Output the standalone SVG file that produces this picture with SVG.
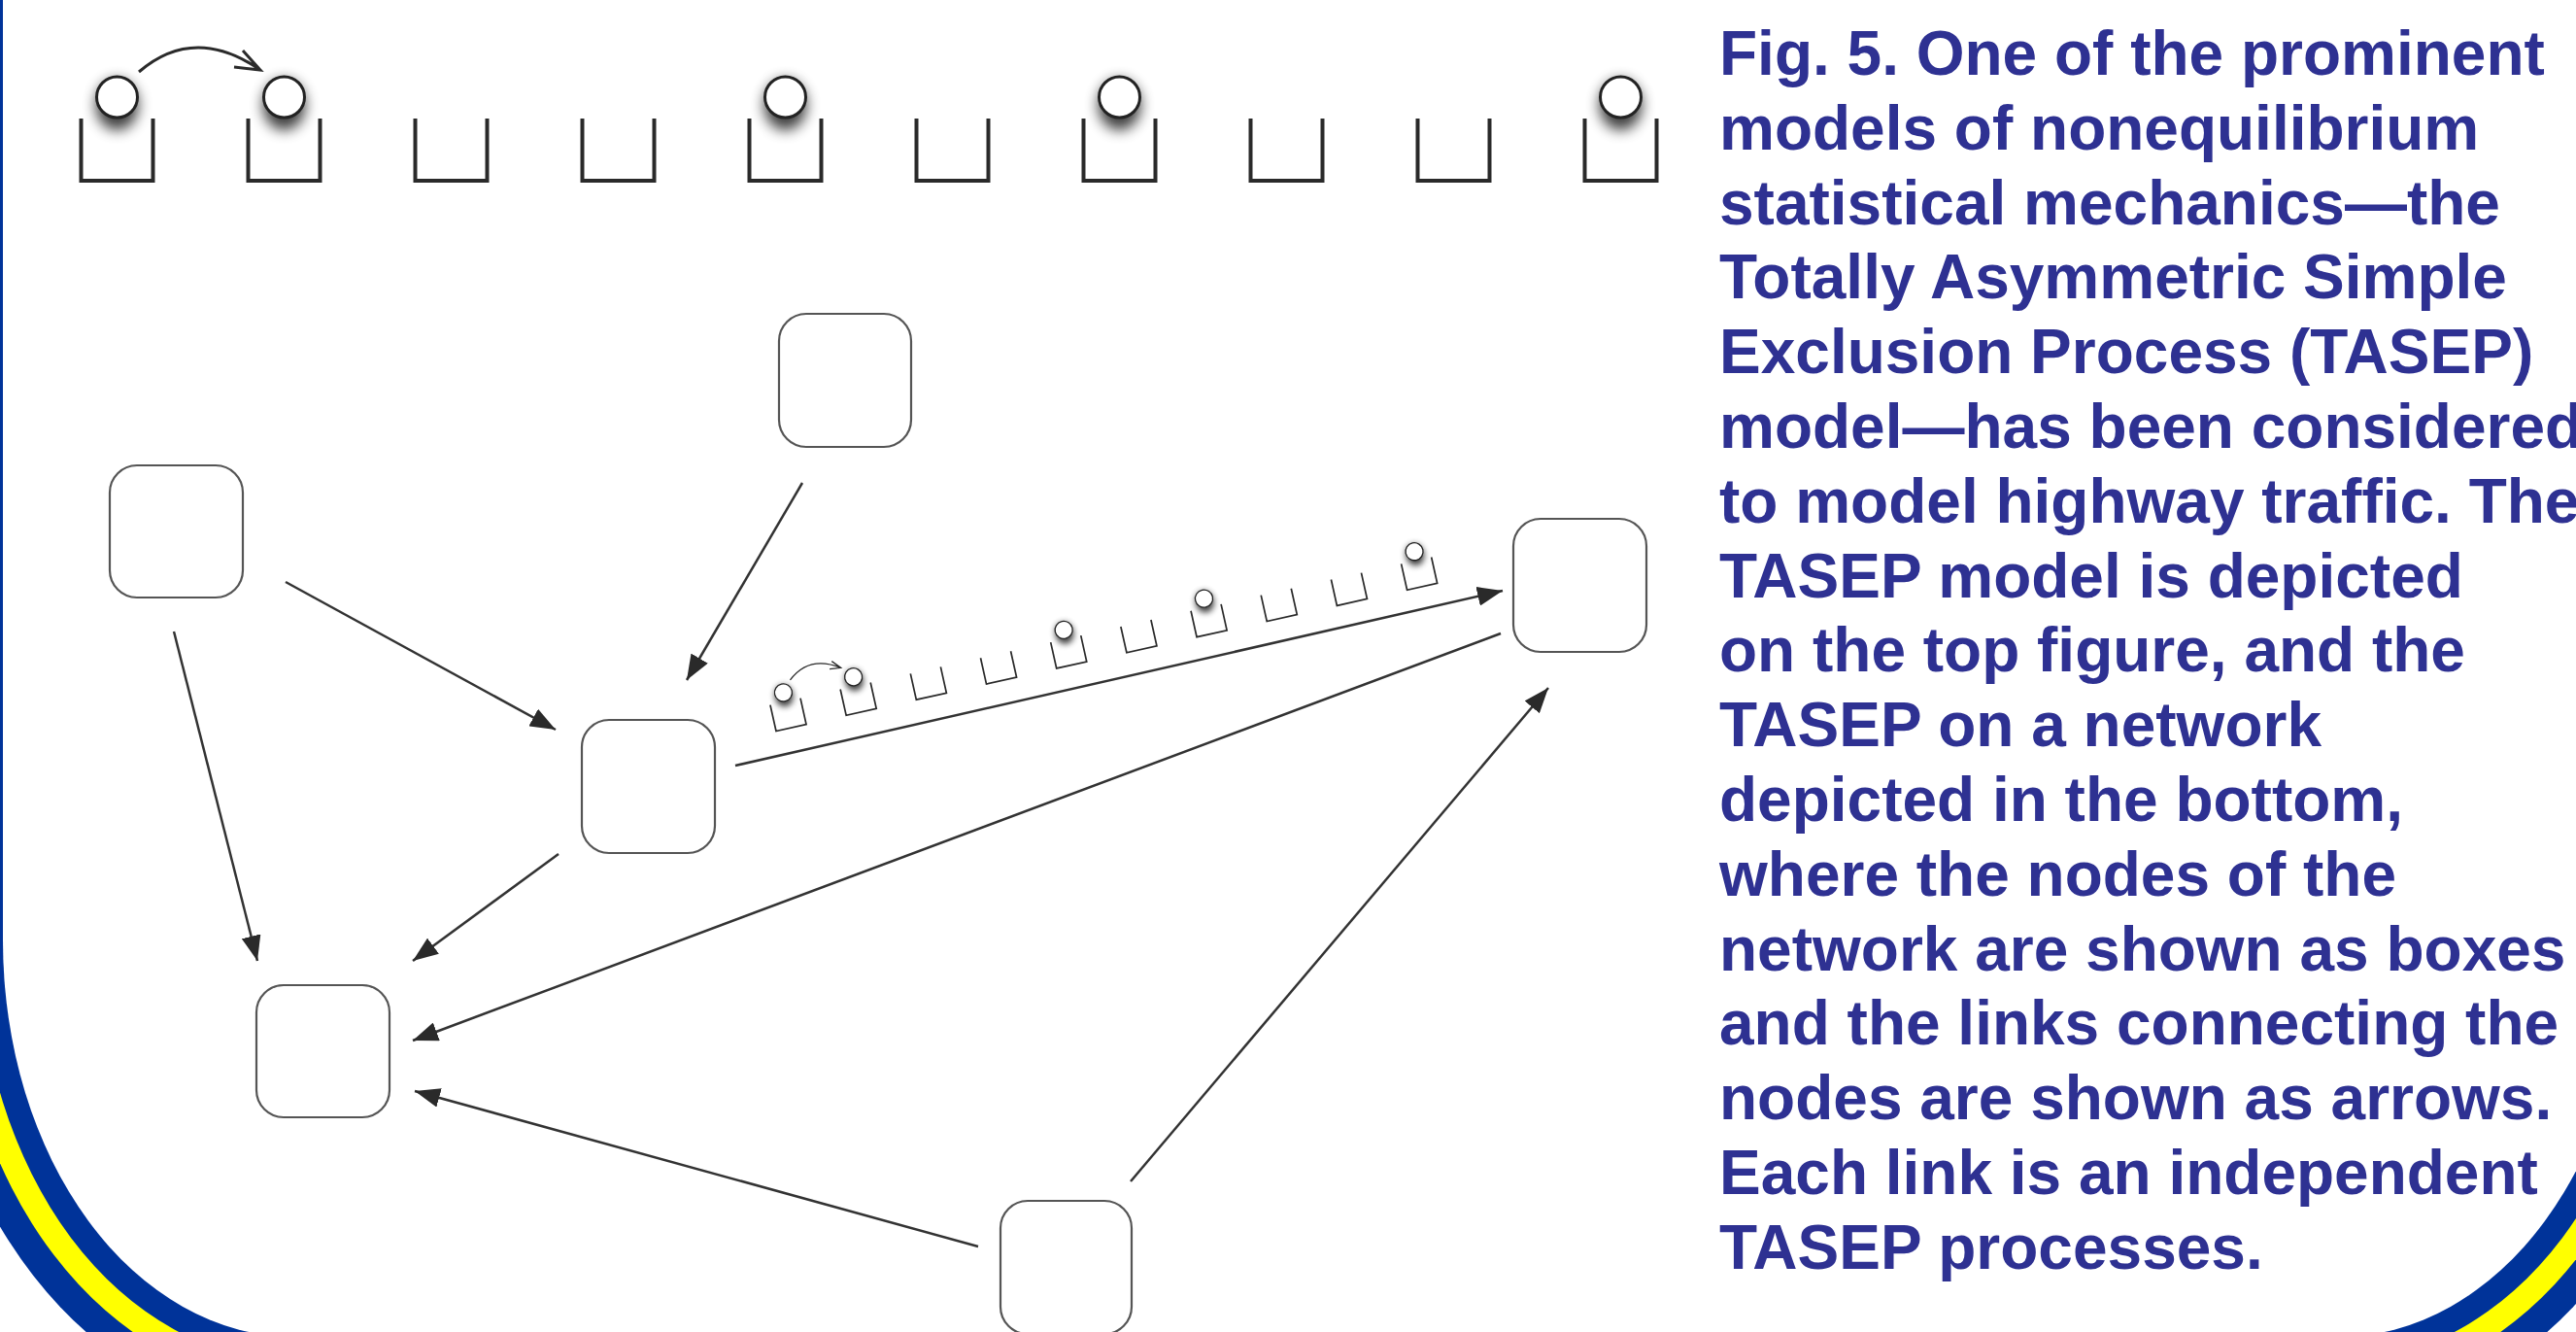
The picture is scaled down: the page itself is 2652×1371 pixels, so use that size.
<svg xmlns="http://www.w3.org/2000/svg" xmlns:xlink="http://www.w3.org/1999/xlink" width="2652" height="1371" viewBox="0 0 2652 1371">
<defs>
<style>
.node{fill:#fff;stroke:#555;stroke-width:2.2}
.link{fill:none;stroke:#333;stroke-width:2.5;marker-end:url(#ah)}
.slot{fill:none;stroke:#2a2a2a;stroke-width:4}
.ball{fill:#fff;stroke:#222;stroke-width:3}
.shade{fill:#000;opacity:0.75;filter:url(#soft)}
.hop{fill:none;stroke:#2a2a2a;stroke-width:3}
.cap{font-family:"Liberation Sans",Arial,sans-serif;font-weight:bold;font-size:64px;fill:#2e3192}
</style>
<filter id="soft" x="-1" y="-1" width="3" height="3"><feGaussianBlur stdDeviation="7"/></filter>
<marker id="ah" viewBox="0 0 26 20" refX="26" refY="10" markerWidth="26" markerHeight="20" markerUnits="userSpaceOnUse" orient="auto"><path d="M0,0 L26,10 L0,20 Z" fill="#2a2a2a"/></marker>
</defs>
<rect x="0" y="0" width="2652" height="1371" fill="#fff"/>
<g id="frame">
<path d="M-77,-50 V968 A380,488 0 0 0 303,1456 H2408 A380,488 0 0 0 2788,968 V-50 Z" fill="#003399"/>
<path d="M-47,-50 V968 A350,458 0 0 0 303,1426 H2408 A350,458 0 0 0 2758,968 V-50 Z" fill="#ffff00"/>
<path d="M-22,-50 V968 A325,433 0 0 0 303,1401 H2408 A325,433 0 0 0 2733,968 V-50 Z" fill="#003399"/>
<path d="M3,-50 V968 A300,408 0 0 0 303,1376 H2408 A300,408 0 0 0 2708,968 V-50 Z" fill="#fff"/>
</g>
<g id="tasep-top">
<g id="occupied-shadows">
<ellipse class="shade" cx="120.5" cy="108" rx="22" ry="26"/>
<ellipse class="shade" cx="292.5" cy="108" rx="22" ry="26"/>
<ellipse class="shade" cx="808.5" cy="108" rx="22" ry="26"/>
<ellipse class="shade" cx="1152.5" cy="108" rx="22" ry="26"/>
<ellipse class="shade" cx="1668.5" cy="108" rx="22" ry="26"/>
</g>
<g id="slots">
<path class="slot" d="M83.5,122 V186 H157.5 V122"/>
<path class="slot" d="M255.5,122 V186 H329.5 V122"/>
<path class="slot" d="M427.5,122 V186 H501.5 V122"/>
<path class="slot" d="M599.5,122 V186 H673.5 V122"/>
<path class="slot" d="M771.5,122 V186 H845.5 V122"/>
<path class="slot" d="M943.5,122 V186 H1017.5 V122"/>
<path class="slot" d="M1115.5,122 V186 H1189.5 V122"/>
<path class="slot" d="M1287.5,122 V186 H1361.5 V122"/>
<path class="slot" d="M1459.5,122 V186 H1533.5 V122"/>
<path class="slot" d="M1631.5,122 V186 H1705.5 V122"/>
</g>
<g id="balls">
<circle class="ball" cx="120.5" cy="100" r="21"/>
<circle class="ball" cx="292.5" cy="100" r="21"/>
<circle class="ball" cx="808.5" cy="100" r="21"/>
<circle class="ball" cx="1152.5" cy="100" r="21"/>
<circle class="ball" cx="1668.5" cy="100" r="21"/>
</g>
<path class="hop" d="M143,74 Q200,25 268,72 M250,52 L268,72 L241,69"/>
</g>
<g id="tasep-link">
<use xlink:href="#tasep-top" href="#tasep-top" transform="translate(814.5,749) rotate(-12.6) scale(0.43) translate(-120.5,-186)"/>
</g>
<g id="connectors">
<line class="link" x1="826" y1="497" x2="707" y2="700"/>
<line class="link" x1="294" y1="599" x2="572" y2="751"/>
<line class="link" x1="179" y1="650" x2="265" y2="989"/>
<line class="link" x1="575" y1="879" x2="425" y2="989"/>
<line class="link" x1="1545" y1="652" x2="425" y2="1071"/>
<line class="link" x1="1007" y1="1283" x2="427" y2="1123"/>
<line class="link" x1="1164" y1="1216" x2="1594" y2="708"/>
<line class="link" x1="757" y1="788" x2="1547" y2="608"/>
</g>
<g id="node-n1"><rect class="node" x="802" y="323" width="136" height="137" rx="28"/></g>
<g id="node-n2"><rect class="node" x="113" y="479" width="137" height="136" rx="28"/></g>
<g id="node-n3"><rect class="node" x="599" y="741" width="137" height="137" rx="28"/></g>
<g id="node-n4"><rect class="node" x="1558" y="534" width="137" height="137" rx="28"/></g>
<g id="node-n5"><rect class="node" x="264" y="1014" width="137" height="136" rx="28"/></g>
<g id="node-n6"><rect class="node" x="1030" y="1236" width="135" height="137" rx="28"/></g>
<g id="caption">
<text class="cap" x="1770" y="77">Fig. 5. One of the prominent</text>
<text class="cap" x="1770" y="153.8">models of nonequilibrium</text>
<text class="cap" x="1770" y="230.6">statistical mechanics—the</text>
<text class="cap" x="1770" y="307.4">Totally Asymmetric Simple</text>
<text class="cap" x="1770" y="384.2">Exclusion Process (TASEP)</text>
<text class="cap" x="1770" y="461">model—has been considered</text>
<text class="cap" x="1770" y="537.8">to model highway traffic. The</text>
<text class="cap" x="1770" y="614.6">TASEP model is depicted</text>
<text class="cap" x="1770" y="691.4">on the top figure, and the</text>
<text class="cap" x="1770" y="768.2">TASEP on a network</text>
<text class="cap" x="1770" y="845">depicted in the bottom,</text>
<text class="cap" x="1770" y="921.8">where the nodes of the</text>
<text class="cap" x="1770" y="998.6">network are shown as boxes</text>
<text class="cap" x="1770" y="1075.4">and the links connecting the</text>
<text class="cap" x="1770" y="1152.2">nodes are shown as arrows.</text>
<text class="cap" x="1770" y="1229">Each link is an independent</text>
<text class="cap" x="1770" y="1305.8">TASEP processes.</text>
</g>
</svg>
